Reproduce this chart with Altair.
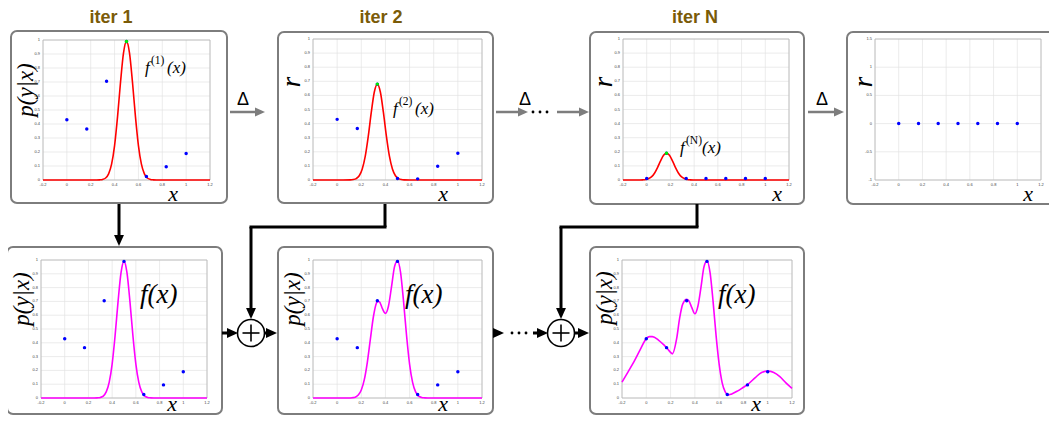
import altair as alt
import pandas as pd

# ---------------- data ----------------
X_PTS = [0.0, 0.167, 0.333, 0.5, 0.667, 0.833, 1.0]
Y_PTS = [0.43, 0.365, 0.705, 0.99, 0.025, 0.095, 0.19]
R2_PTS = [0.43, 0.365, 0.68, 0.01, 0.008, 0.097, 0.19]
RN_PTS = [0.01, 0.19, 0.01, 0.01, 0.01, 0.01, 0.01]
RF_PTS = [0, 0, 0, 0, 0, 0, 0]

F1_X = [-0.2, 0.0, 0.2, 0.25, 0.275, 0.3, 0.325, 0.35, 0.375, 0.4, 0.425, 0.45, 0.475, 0.5,
        0.525, 0.55, 0.575, 0.6, 0.625, 0.65, 0.675, 0.7, 0.725, 0.75, 0.8, 1.0, 1.2]
F1_Y = [0, 0, 0, 0, 0.001, 0.004, 0.014, 0.044, 0.113, 0.246, 0.453, 0.700, 0.908, 0.99,
        0.908, 0.700, 0.453, 0.246, 0.113, 0.044, 0.014, 0.004, 0.001, 0, 0, 0, 0]

F2_X = [-0.2, 0.0, 0.05, 0.108, 0.133, 0.158, 0.183, 0.208, 0.233, 0.258, 0.283, 0.308, 0.333,
        0.358, 0.383, 0.408, 0.433, 0.458, 0.483, 0.508, 0.533, 0.558, 0.6, 0.8, 1.0, 1.2]
F2_Y = [0, 0, 0, 0.001, 0.003, 0.010, 0.030, 0.078, 0.169, 0.311, 0.481, 0.624, 0.68,
        0.624, 0.481, 0.311, 0.169, 0.078, 0.030, 0.010, 0.003, 0.001, 0, 0, 0, 0]

FN_X = [-0.2, -0.1, -0.058, -0.033, -0.008, 0.017, 0.042, 0.067, 0.092, 0.117, 0.142, 0.167,
        0.192, 0.217, 0.242, 0.267, 0.292, 0.317, 0.342, 0.367, 0.392, 0.45, 0.8, 1.2]
FN_Y = [0, 0, 0, 0.001, 0.003, 0.010, 0.024, 0.050, 0.090, 0.136, 0.175, 0.19,
        0.175, 0.136, 0.090, 0.050, 0.024, 0.010, 0.003, 0.001, 0, 0, 0, 0]

F12_X = [-0.2, 0.0, 0.1, 0.125, 0.15, 0.175, 0.2, 0.225, 0.25, 0.275, 0.3, 0.325, 0.333,
         0.35, 0.375, 0.4, 0.425, 0.45, 0.475, 0.5, 0.525, 0.55, 0.575, 0.6, 0.625, 0.65,
         0.675, 0.7, 0.725, 0.75, 0.8, 1.0, 1.2]
F12_Y = [0, 0, 0, 0.002, 0.006, 0.021, 0.058, 0.133, 0.259, 0.425, 0.587, 0.687, 0.701,
         0.698, 0.647, 0.613, 0.665, 0.803, 0.950, 0.995, 0.912, 0.701, 0.453, 0.246, 0.113, 0.044,
         0.014, 0.004, 0.001, 0, 0, 0, 0]

FF_X = [-0.2, -0.15, -0.1, -0.05, 0.0, 0.025, 0.05, 0.1, 0.15, 0.167, 0.2, 0.215, 0.25, 0.275,
        0.3, 0.333, 0.35, 0.375, 0.4, 0.425, 0.45, 0.475, 0.5, 0.525, 0.55, 0.575, 0.6, 0.625,
        0.65, 0.675, 0.7, 0.75, 0.8, 0.833, 0.9, 0.95, 1.0, 1.05, 1.1, 1.15, 1.2]
FF_Y = [0.115, 0.19, 0.265, 0.35, 0.43, 0.445, 0.445, 0.42, 0.38, 0.365, 0.33, 0.32, 0.43, 0.58,
        0.68, 0.715, 0.705, 0.655, 0.61, 0.665, 0.8, 0.95, 0.995, 0.91, 0.70, 0.45, 0.245, 0.11,
        0.045, 0.022, 0.028, 0.05, 0.078, 0.097, 0.15, 0.185, 0.195, 0.185, 0.155, 0.11, 0.07]

PEAK1 = ([0.5], [0.99])
PEAK2 = ([0.333], [0.68])
PEAKN = ([0.167], [0.19])

X_TICKS = [-0.2, 0.0, 0.2, 0.4, 0.6, 0.8, 1.0, 1.2]
X_TICK_LABELS = ["-0.2", "0", "0.2", "0.4", "0.6", "0.8", "1", "1.2"]
Y_TICKS = [0.0, 0.1, 0.2, 0.3, 0.4, 0.5, 0.6, 0.7, 0.8, 0.9, 1.0]
Y_TICK_LABELS = ["0", "0.1", "0.2", "0.3", "0.4", "0.5", "0.6", "0.7", "0.8", "0.9", "1"]
R_TICKS = [-1.0, -0.5, 0.0, 0.5, 1.0, 1.5]
R_TICK_LABELS = ["-1", "-0.5", "0", "0.5", "1", "1.5"]

# ---------------- layout (page pixels) ----------------
OFF = 8
W, H = 1041, 408
ONE = pd.DataFrame({"k": [0]})
SERIF = "Liberation Serif"
SANS = "Liberation Sans"
GRAY = "#7d7d7d"


def px(v):
    return v - OFF


def panel(geom, ydom, yticks, ylabs, cx, cy, ccolor, py_, peak=None):
    x0, y0, x1, y1 = geom
    sx = alt.Scale(domain=[-0.2, 1.2], range=[px(x0), px(x1)], nice=False, zero=False)
    sy = alt.Scale(domain=ydom, range=[px(y1), px(y0)], nice=False, zero=False)
    xt = pd.DataFrame({"v": X_TICKS, "lab": X_TICK_LABELS})
    yt = pd.DataFrame({"v": yticks, "lab": ylabs})
    layers = []
    layers.append(alt.Chart(xt).mark_rule(color="#e3e3e3", strokeWidth=0.7).encode(
        x=alt.X("v:Q", scale=sx, axis=None),
        y=alt.YDatum(ydom[0], scale=sy, axis=None), y2=alt.Y2Datum(ydom[1])))
    layers.append(alt.Chart(yt).mark_rule(color="#e3e3e3", strokeWidth=0.7).encode(
        y=alt.Y("v:Q", scale=sy, axis=None),
        x=alt.XDatum(-0.2, scale=sx, axis=None), x2=alt.X2Datum(1.2)))
    layers.append(alt.Chart(ONE).mark_rect(fillOpacity=0, stroke="#b5b5b5", strokeWidth=0.8).encode(
        x=alt.XDatum(-0.2, scale=sx, axis=None), x2=alt.X2Datum(1.2),
        y=alt.YDatum(ydom[0], scale=sy, axis=None), y2=alt.Y2Datum(ydom[1])))
    layers.append(alt.Chart(xt).mark_text(fontSize=4, font=SANS, color="#444", baseline="top", dy=3).encode(
        x=alt.X("v:Q", scale=sx, axis=None), y=alt.YDatum(ydom[0], scale=sy, axis=None), text="lab:N"))
    layers.append(alt.Chart(yt).mark_text(fontSize=4, font=SANS, color="#444", align="right", dx=-3).encode(
        y=alt.Y("v:Q", scale=sy, axis=None), x=alt.XDatum(-0.2, scale=sx, axis=None), text="lab:N"))
    if cx is not None:
        layers.append(alt.Chart(pd.DataFrame({"x": cx, "y": cy})).mark_line(
            color=ccolor, strokeWidth=1.6, interpolate="monotone").encode(
            x=alt.X("x:Q", scale=sx, axis=None), y=alt.Y("y:Q", scale=sy, axis=None)))
    layers.append(alt.Chart(pd.DataFrame({"x": X_PTS, "y": py_})).mark_circle(
        color="#0000ff", size=12, opacity=1).encode(
        x=alt.X("x:Q", scale=sx, axis=None), y=alt.Y("y:Q", scale=sy, axis=None)))
    if peak is not None:
        layers.append(alt.Chart(pd.DataFrame({"x": peak[0], "y": peak[1]})).mark_circle(
            color="#00ee00", size=12, opacity=1).encode(
            x=alt.X("x:Q", scale=sx, axis=None), y=alt.Y("y:Q", scale=sy, axis=None)))
    return alt.layer(*layers)


def box(x0, y0, x1, y1):
    return alt.Chart(ONE).mark_rect(fill="white", stroke=GRAY, strokeWidth=2, cornerRadius=6).encode(
        x=alt.value(px(x0)), x2=alt.value(px(x1)), y=alt.value(px(y0)), y2=alt.value(px(y1)))


def line(x0, y0, x1, y1, color="black", w=3):
    return alt.Chart(ONE).mark_rule(color=color, strokeWidth=w, strokeCap="butt").encode(
        x=alt.value(px(x0)), x2=alt.value(px(x1)), y=alt.value(px(y0)), y2=alt.value(px(y1)))


RIGHT = "M-1,-0.9L1,0L-1,0.9Z"
DOWN = "M-0.9,-1L0.9,-1L0,1Z"


def head(x, y, shape, color="black", s=11):
    return alt.Chart(ONE).mark_point(shape=shape, filled=True, color=color, opacity=1, size=s * s).encode(
        x=alt.value(px(x)), y=alt.value(px(y)))


def arrow_r(x0, x1, y, color="black", w=3, s=11):
    return [line(x0, y, x1 - s + 1, y, color, w), head(x1 - s / 2, y, RIGHT, color, s)]


def arrow_d(x, y0, y1, color="black", w=3, s=11):
    return [line(x, y0, x, y1 - s + 1, color, w), head(x, y1 - s / 2, DOWN, color, s)]


def txt(s, x, y, size, font=SERIF, style="italic", weight="normal", color="black",
        angle=0, align="center", baseline="middle"):
    return alt.Chart(ONE).mark_text(text=s, font=font, fontSize=size, fontStyle=style,
                                    fontWeight=weight, color=color, angle=angle,
                                    align=align, baseline=baseline).encode(
        x=alt.value(px(x)), y=alt.value(px(y)))


def dots(x0, y, color="black", step=7, s=3.2):
    return [alt.Chart(ONE).mark_circle(color=color, opacity=1, size=s * s * 0.8).encode(
        x=alt.value(px(x0 + i * step)), y=alt.value(px(y))) for i in range(3)]


def plus(cx, cy, r=13.5):
    return [alt.Chart(ONE).mark_point(shape="circle", filled=True, fill="white", stroke="black",
                                      strokeWidth=1.6, opacity=1, size=(2 * r) ** 2).encode(
                x=alt.value(px(cx)), y=alt.value(px(cy))),
            line(cx - 8.5, cy, cx + 8.5, cy, "black", 1.6),
            line(cx, cy - 8.5, cx, cy + 8.5, "black", 1.6)]


def formula(sup, x, y):
    return [txt("f", x, y, 17, align="left", baseline="alphabetic"),
            txt(sup, x + 6, y - 9, 11.5, style="normal", align="left", baseline="alphabetic"),
            txt("(x)", x + 22, y, 17, align="left", baseline="alphabetic")]


BOXES = [(11, 31, 227, 203), (278, 32, 493, 203), (590, 32, 804, 204), (847, 32, 1060, 204),
         (7, 247, 222, 414), (278, 247, 493, 414), (590, 247, 804, 414)]
P1 = (43, 40, 210, 180)
P2 = (313, 39, 482, 180)
P3 = (623, 39, 789, 180)
P4 = (875, 39, 1041, 180)
P5 = (41, 260, 207, 398)
P6 = (313, 260, 482, 398)
P7 = (622, 260, 792, 398)

layers = [box(*b) for b in BOXES]

layers += [
    panel(P1, [0, 1], Y_TICKS, Y_TICK_LABELS, F1_X, F1_Y, "#ff0000", Y_PTS, PEAK1),
    panel(P2, [0, 1], Y_TICKS, Y_TICK_LABELS, F2_X, F2_Y, "#ff0000", R2_PTS, PEAK2),
    panel(P3, [0, 1], Y_TICKS, Y_TICK_LABELS, FN_X, FN_Y, "#ff0000", RN_PTS, PEAKN),
    panel(P4, [-1, 1.5], R_TICKS, R_TICK_LABELS, None, None, None, RF_PTS),
    panel(P5, [0, 1], Y_TICKS, Y_TICK_LABELS, F1_X, F1_Y, "#ff00ff", Y_PTS),
    panel(P6, [0, 1], Y_TICKS, Y_TICK_LABELS, F12_X, F12_Y, "#ff00ff", Y_PTS),
    panel(P7, [0, 1], Y_TICKS, Y_TICK_LABELS, FF_X, FF_Y, "#ff00ff", Y_PTS),
]

# titles
TITLE_C = "#7a5b08"
for s, x in [("iter  1", 111), ("iter  2", 381), ("iter  N", 695)]:
    layers.append(txt(s, x, 9, 18, font=SANS, style="normal", weight="bold", color=TITLE_C,
                      baseline="top"))

# axis labels
for (x, y) in [(26, 90), (22, 299), (293, 299), (605, 298)]:
    layers.append(txt("p(y|x)", x, y, 23, angle=270))
for (x, y) in [(292, 82), (604, 82), (864, 82)]:
    layers.append(txt("r", x, y, 27, angle=270))
for (x, y) in [(173, 201), (443, 201), (777, 201), (1028, 201),
               (172, 411), (443, 411), (756, 411)]:
    layers.append(txt("x", x, y, 22, baseline="alphabetic"))

# formulas
layers += formula("(1)", 145, 73)
layers += formula("(2)", 393, 114)
layers += formula("(N)", 680, 153)
for x in [140, 405, 718]:
    layers.append(txt("f(x)", x, 295, 27, align="left"))

# top gray delta arrows
layers += arrow_r(230, 265, 112, GRAY, 2.5, 10)
layers += arrow_r(496, 528, 112, GRAY, 2.5, 10)
layers += dots(533, 112)
layers += arrow_r(557, 589, 112, GRAY, 2.5, 10)
layers += arrow_r(808, 844, 112, GRAY, 2.5, 10)
for x in [243, 525, 822]:
    layers.append(txt("Δ", x, 100, 18, font=SANS, style="normal"))

# bottom black flow
layers += arrow_d(119, 204, 246)
layers += arrow_r(222, 238, 333)
layers += arrow_r(264, 277, 333)
layers += [line(385, 204, 385, 227), line(251 - 1.5, 227, 385 + 1.5, 227)]
layers += arrow_d(251, 227, 319)
layers += plus(251, 333)
layers += arrow_r(493, 504, 333)
layers += dots(512, 333)
layers += arrow_r(533, 548, 333)
layers += [line(697, 204, 697, 227), line(561 - 1.5, 227, 697 + 1.5, 227)]
layers += arrow_d(561, 227, 319)
layers += plus(561, 333)
layers += arrow_r(575, 589, 333)

chart = alt.layer(*layers).resolve_scale(x="independent", y="independent").properties(
    width=W, height=H, padding=0, autosize=alt.AutoSizeParams(type="none")
).configure_view(stroke=None)

chart.save("out.html", embed_options={"renderer": "svg", "actions": False})
